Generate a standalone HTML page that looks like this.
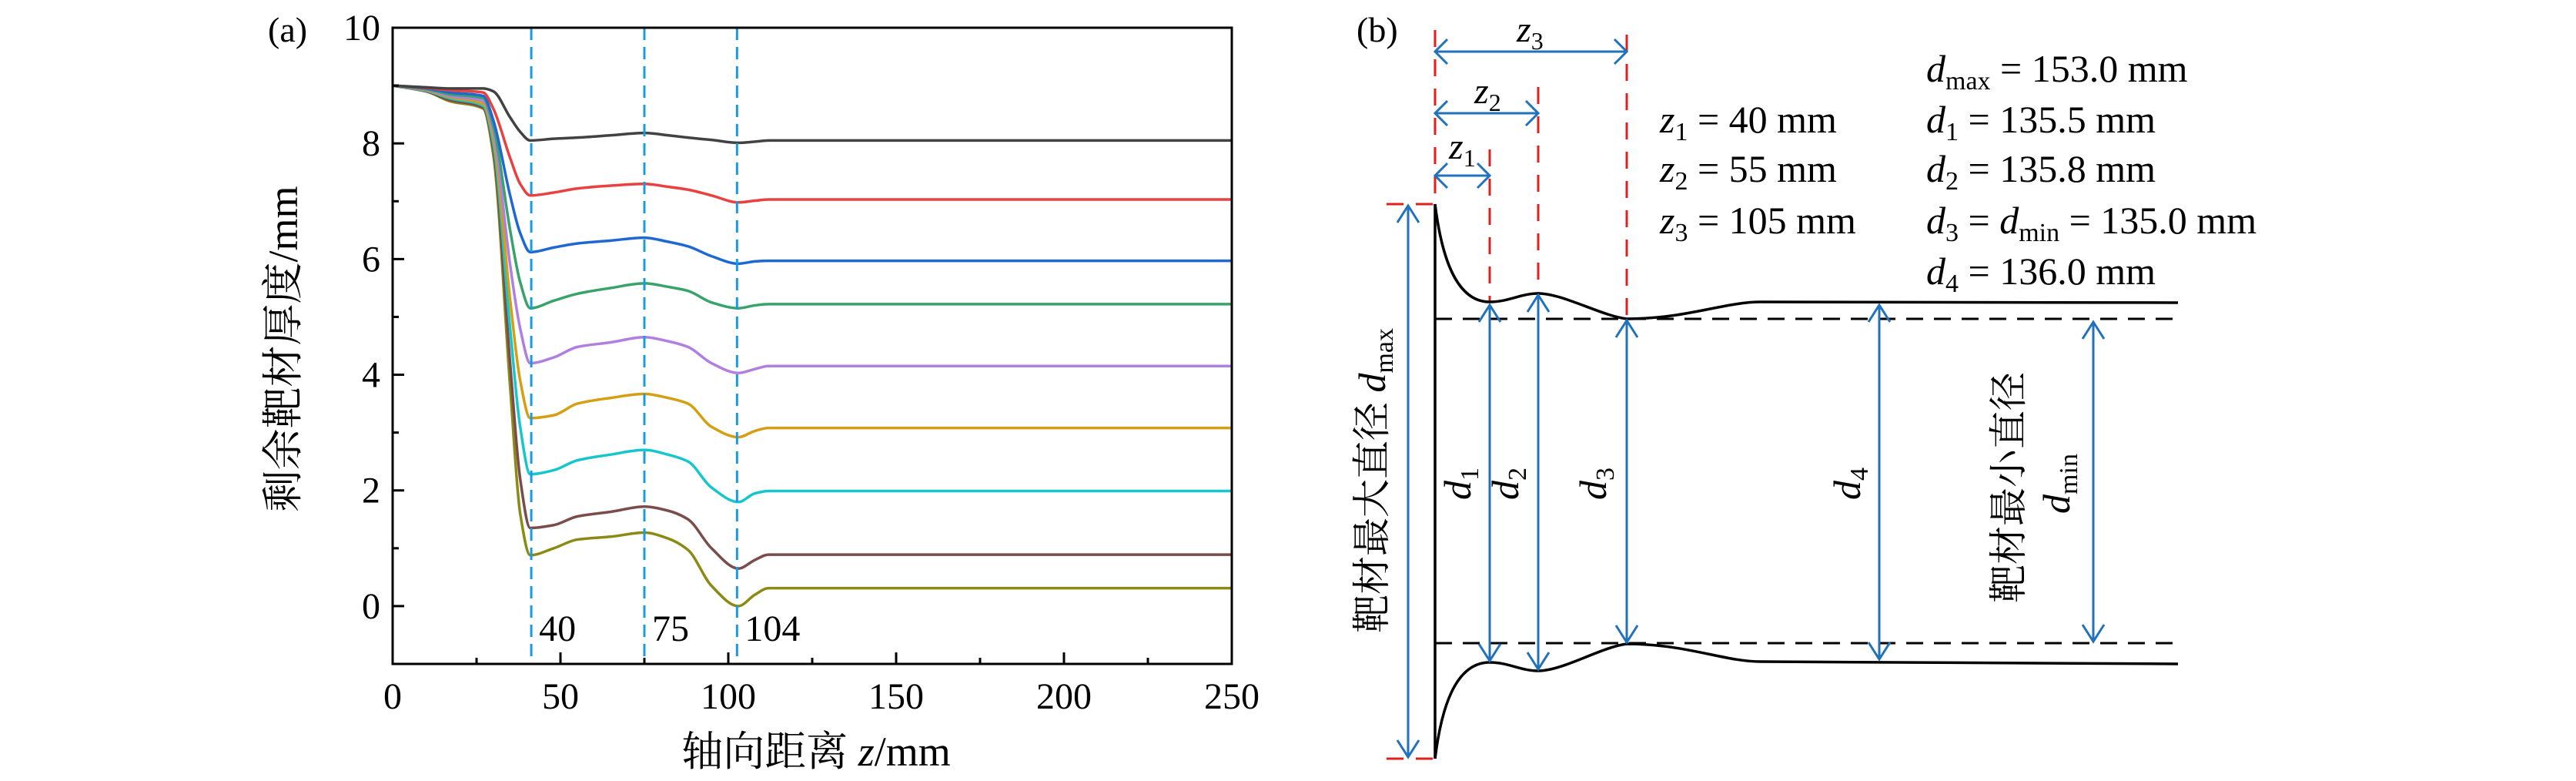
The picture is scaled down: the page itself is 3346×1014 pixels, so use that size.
<!DOCTYPE html>
<html><head><meta charset="utf-8"><style>
html,body{margin:0;padding:0;background:#fff;}
svg{display:block;}
text{font-family:"Liberation Serif","Noto Serif CJK SC",serif;fill:#000;}
.cjk{font-family:"Liberation Serif","Noto Serif CJK SC","Noto Sans CJK SC",serif;}
</style></head><body>
<svg id="fig" width="3346" height="1014" viewBox="0 0 3346 1014" xmlns="http://www.w3.org/2000/svg">
<g id="panelA"></g>
<g id="panelB">
  <text x="1762" y="54" font-size="46">(b)</text>
  <g stroke="#e0201c" stroke-width="3" stroke-dasharray="22,16" fill="none">
    <line x1="1864" y1="39" x2="1864" y2="265"/>
    <line x1="1935" y1="194" x2="1935" y2="392"/>
    <line x1="1998" y1="113" x2="1998" y2="381"/>
    <line x1="2113" y1="45" x2="2113" y2="414"/>
    <line x1="1801" y1="265" x2="1864" y2="265"/>
    <line x1="1801" y1="985" x2="1864" y2="985"/>
  </g>
  <g stroke="#000" stroke-width="3" stroke-dasharray="22,14">
    <line x1="1864" y1="414" x2="2832" y2="414"/>
    <line x1="1864" y1="835" x2="2832" y2="835"/>
  </g>
  <g stroke="#000" stroke-width="3.5" fill="none">
    <line x1="1864" y1="265" x2="1864" y2="985"/>
    <path d="M1864,265 C1872,330 1890,392 1935,392 C1960,392 1975,381 1998,381 C2030,381 2080,410 2113,414 C2190,414 2240,392 2287,392 L2829,393"/>
    <path d="M1864,985 C1872,920 1890,860 1935,860 C1960,860 1975,871 1998,871 C2030,871 2080,840 2113,836 C2190,836 2240,859 2287,859 L2829,862"/>
  </g>
  <g id="arrows" stroke="#1f72bb" stroke-width="3" fill="none"></g>
  <g font-size="48" font-style="italic">
    <text x="1970" y="54">z<tspan font-size="32" font-style="normal" dy="10">3</tspan></text>
    <text x="1915" y="134">z<tspan font-size="32" font-style="normal" dy="10">2</tspan></text>
    <text x="1882" y="206">z<tspan font-size="32" font-style="normal" dy="10">1</tspan></text>
  </g>
  <g font-size="50">
    <text x="2156" y="172"><tspan font-style="italic">z</tspan><tspan font-size="34" dy="10">1</tspan><tspan dy="-10"> = 40  mm</tspan></text>
    <text x="2156" y="236"><tspan font-style="italic">z</tspan><tspan font-size="34" dy="10">2</tspan><tspan dy="-10"> = 55  mm</tspan></text>
    <text x="2156" y="303"><tspan font-style="italic">z</tspan><tspan font-size="34" dy="10">3</tspan><tspan dy="-10"> = 105  mm</tspan></text>
  </g>
  <g font-size="50">
    <text x="2502" y="106"><tspan font-style="italic">d</tspan><tspan font-size="34" dy="10">max</tspan><tspan dy="-10"> = 153.0  mm</tspan></text>
    <text x="2502" y="172"><tspan font-style="italic">d</tspan><tspan font-size="34" dy="10">1</tspan><tspan dy="-10"> = 135.5  mm</tspan></text>
    <text x="2502" y="236"><tspan font-style="italic">d</tspan><tspan font-size="34" dy="10">2</tspan><tspan dy="-10"> = 135.8  mm</tspan></text>
    <text x="2502" y="303"><tspan font-style="italic">d</tspan><tspan font-size="34" dy="10">3</tspan><tspan dy="-10"> = </tspan><tspan font-style="italic">d</tspan><tspan font-size="34" dy="10">min</tspan><tspan dy="-10"> = 135.0  mm</tspan></text>
    <text x="2502" y="369"><tspan font-style="italic">d</tspan><tspan font-size="34" dy="10">4</tspan><tspan dy="-10"> = 136.0  mm</tspan></text>
  </g>
  <g font-size="50" font-style="italic">
    <text transform="translate(1910,628) rotate(-90)" text-anchor="middle">d<tspan font-size="34" font-style="normal" dy="10">1</tspan></text>
    <text transform="translate(1972,628) rotate(-90)" text-anchor="middle">d<tspan font-size="34" font-style="normal" dy="10">2</tspan></text>
    <text transform="translate(2086,628) rotate(-90)" text-anchor="middle">d<tspan font-size="34" font-style="normal" dy="10">3</tspan></text>
    <text transform="translate(2416,628) rotate(-90)" text-anchor="middle">d<tspan font-size="34" font-style="normal" dy="10">4</tspan></text>
  </g>
  <text class="cjk" transform="translate(1799,624) rotate(-90)" text-anchor="middle" font-size="50">靶材最大直径 <tspan font-style="italic">d</tspan><tspan font-size="34" dy="10">max</tspan></text>
  <text class="cjk" transform="translate(2626,633) rotate(-90)" text-anchor="middle" font-size="50">靶材最小直径</text>
  <text transform="translate(2688,628) rotate(-90)" text-anchor="middle" font-size="50" font-style="italic">d<tspan font-size="34" font-style="normal" dy="10">min</tspan></text>
</g>
</svg>
<script>
// ---- Panel (a) data ----
const xs = [0,10,17,27,30,35,38,41,48,55,65,75,82,88,95,103,108,112,250];
const sBlack  = [9.0,8.97,8.95,8.95,8.9,8.45,8.2,8.05,8.08,8.1,8.14,8.18,8.14,8.1,8.06,8.01,8.03,8.05,8.05];
const sRed    = [9.0,8.96,8.92,8.88,8.6,7.75,7.3,7.1,7.15,7.22,7.27,7.3,7.25,7.2,7.1,6.98,7.01,7.03,7.03];
const sBlue   = [9.0,8.95,8.88,8.82,8.4,7.1,6.45,6.12,6.2,6.27,6.32,6.37,6.3,6.22,6.05,5.92,5.96,5.97,5.97];
const sGreen  = [9.0,8.94,8.85,8.78,8.3,6.5,5.6,5.15,5.28,5.4,5.5,5.58,5.52,5.45,5.25,5.15,5.2,5.22,5.22];
const sPurple = [9.0,8.93,8.82,8.73,8.2,5.9,4.8,4.2,4.3,4.48,4.56,4.65,4.58,4.48,4.2,4.03,4.1,4.15,4.15];
const sOrange = [9.0,8.92,8.8,8.68,8.1,5.3,3.9,3.25,3.3,3.5,3.6,3.67,3.6,3.5,3.1,2.92,3.03,3.08,3.08];
const sCyan   = [9.0,8.91,8.78,8.65,8.0,4.8,3.1,2.28,2.35,2.52,2.62,2.7,2.62,2.5,2.05,1.8,1.95,1.99,1.99];
const sBrown  = [9.0,8.9,8.75,8.62,7.9,4.2,2.2,1.35,1.4,1.55,1.63,1.72,1.65,1.5,1.0,0.65,0.8,0.89,0.89];
const sOlive  = [9.0,8.9,8.73,8.6,7.8,3.8,1.6,0.88,1.0,1.15,1.2,1.27,1.17,0.97,0.35,0.0,0.2,0.31,0.31];
const seriesColors = ["#424242","#e8413f","#1f68d2","#38a36a","#b07fe0","#d49f12","#17c6cc","#7b4c4c","#8b8a14"];
const xTicks = [0,50,100,150,200,250];
const xMinor = [25,75,125,175,225];
const yTicks = [0,2,4,6,8,10];
const yMinor = [-1,1,3,5,7,9];
const markX = [41.3,75,102.6];
const markLabels = ["40","75","104"];

const NS="http://www.w3.org/2000/svg";
const L=510,R=1600,T=36,B=862,XMIN=0,XMAX=250,YMIN=-1,YMAX=10;
const sx=v=>L+(v-XMIN)/(XMAX-XMIN)*(R-L);
const sy=v=>B-(v-YMIN)/(YMAX-YMIN)*(B-T);
const A=document.getElementById('panelA');
function mk(tag,attrs,parent){const e=document.createElementNS(NS,tag);for(const k in attrs)e.setAttribute(k,attrs[k]);(parent||A).appendChild(e);return e;}
// monotone cubic (Fritsch-Carlson) in screen space
function smooth(px,py){
 const n=px.length,dl=[],m=[];
 for(let i=0;i<n-1;i++)dl.push((py[i+1]-py[i])/(px[i+1]-px[i]));
 m[0]=dl[0];m[n-1]=dl[n-2];
 for(let i=1;i<n-1;i++){ if(dl[i-1]*dl[i]<=0)m[i]=0; else { const w1=2*(px[i+1]-px[i])+(px[i]-px[i-1]), w2=(px[i+1]-px[i])+2*(px[i]-px[i-1]); m[i]=(w1+w2)/(w1/dl[i-1]+w2/dl[i]); } }
 let d="M"+px[0]+","+py[0];
 for(let i=0;i<n-1;i++){const h=px[i+1]-px[i];
  d+=" C"+(px[i]+h/3)+","+(py[i]+m[i]*h/3)+" "+(px[i+1]-h/3)+","+(py[i+1]-m[i+1]*h/3)+" "+px[i+1]+","+py[i+1];}
 return d;}

const allSeries=[sBlack,sRed,sBlue,sGreen,sPurple,sOrange,sCyan,sBrown,sOlive];
const names=["series-1","series-2","series-3","series-4","series-5","series-6","series-7","series-8","series-9"];
for(let i=allSeries.length-1;i>=0;i--){
 const s=allSeries[i];
 const p=mk('path',{d:smooth(xs.map(sx),s.map(sy)),fill:'none',stroke:seriesColors[i],'stroke-width':3.5});
 
 
}
markX.forEach((m,i)=>{
 const l=mk('line',{x1:sx(m),x2:sx(m),y1:T,y2:B,stroke:'#1a9be0','stroke-width':3,'stroke-dasharray':'16,9'});
 
 
 const t=mk('text',{x:sx(m)+10,y:832,'font-size':48});t.textContent=markLabels[i];
 
 
});
const frame=mk('rect',{x:L,y:T,width:R-L,height:B-T,fill:'none',stroke:'#000','stroke-width':3});


xTicks.forEach(v=>{const l=mk('line',{x1:sx(v),x2:sx(v),y1:B,y2:B-15,stroke:'#000','stroke-width':3});
 
 
 const t=mk('text',{x:sx(v),y:920,'font-size':48,'text-anchor':'middle'});t.textContent=v;
 
 });
xMinor.forEach(v=>{const l=mk('line',{x1:sx(v),x2:sx(v),y1:B,y2:B-8,stroke:'#000','stroke-width':3});
 
 });
yTicks.forEach(v=>{const l=mk('line',{x1:L,x2:L+15,y1:sy(v),y2:sy(v),stroke:'#000','stroke-width':3});
 
 
 const t=mk('text',{x:494,y:sy(v)+16,'font-size':48,'text-anchor':'end'});t.textContent=v;
 
 });
yMinor.forEach(v=>{const l=mk('line',{x1:L,x2:L+8,y1:sy(v),y2:sy(v),stroke:'#000','stroke-width':3});
 
 });
const pa=mk('text',{x:348,y:54,'font-size':46});pa.textContent='(a)';


const yt=mk('text',{transform:'translate(386,453) rotate(-90)','text-anchor':'middle','font-size':54,class:'cjk'});yt.textContent='剩余靶材厚度/mm';


const xt=mk('text',{x:1060,y:994,'text-anchor':'middle','font-size':54,class:'cjk'});
xt.appendChild(document.createTextNode('轴向距离 '));
const zs=mk('tspan',{'font-style':'italic'},xt);zs.textContent='z';
xt.appendChild(document.createTextNode('/mm'));



// ---- Panel (b) arrows ----
const G=document.getElementById('arrows');
function arrowH(x1,x2,y){const h=16;const d="M"+x1+","+y+" L"+x2+","+y+" M"+(x1+h)+","+(y-h)+" L"+x1+","+y+" L"+(x1+h)+","+(y+h)+" M"+(x2-h)+","+(y-h)+" L"+x2+","+y+" L"+(x2-h)+","+(y+h);
 const p=mk('path',{d:d},G);
 
 }
function arrowV(x,y1,y2){const h=14,k=22;const d="M"+x+","+y1+" L"+x+","+y2+" M"+(x-h)+","+(y1+k)+" L"+x+","+y1+" L"+(x+h)+","+(y1+k)+" M"+(x-h)+","+(y2-k)+" L"+x+","+y2+" L"+(x+h)+","+(y2-k);
 const p=mk('path',{d:d},G);
 
 }
arrowH(1864,2113,67);arrowH(1864,1998,147);arrowH(1864,1935,228);
arrowV(1829,267,983);arrowV(1935,396,858);arrowV(1998,383,869);arrowV(2113,416,834);arrowV(2441,396,856);arrowV(2719,418,833);
</script>
</body></html>
